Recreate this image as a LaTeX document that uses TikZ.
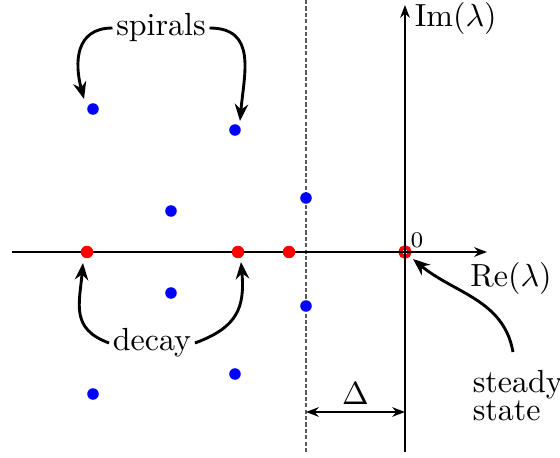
\documentclass[tikz,border=0pt]{standalone}
\usetikzlibrary{arrows.meta}
\begin{document}
\begin{tikzpicture}[x=0.3125pt,y=-0.3125pt,
  bdot/.style={circle,fill=blue,inner sep=0pt,minimum size=3.6pt},
  rdot/.style={circle,fill=red,inner sep=0pt,minimum size=3.9pt},
  axis/.style={line width=0.6pt,-{Stealth[length=4pt,width=3pt]}},
  callout/.style={line width=0.9pt,-{Stealth[length=5.3pt,width=4.2pt]}},
  lbl/.style={inner sep=1pt}]
\useasboundingbox (0,0) rectangle (560,458);
% dashed line
\coordinate (dtop) at (306,0);
\coordinate (dbot) at (306,452);
\draw[black!65,dash pattern=on 1.3pt off 0.7pt,line width=0.5pt] (dtop) -- (dbot);
% origin ring (under axes)
\node[circle,draw=red,line width=1.2pt,inner sep=0pt,minimum size=3.0pt] (o) at (405,252) {};
% axes
\coordinate (xl) at (12,252);
\coordinate (xr) at (487,252);
\coordinate (yb) at (405,452);
\coordinate (yt) at (405,5);
\draw[axis] (xl) -- (xr);
\draw[axis] (yb) -- (yt);
\node[lbl,anchor=west] (im) at (411,19) {$\mathrm{Im}(\lambda)$};
\node[lbl] (re) at (511,279) {$\mathrm{Re}(\lambda)$};
\node[lbl,font=\scriptsize] (zero) at (417,240) {$0$};
% blue dots
\node[bdot] (b1) at (93,109) {};
\node[bdot] (b2) at (235,130) {};
\node[bdot] (b3) at (171,211) {};
\node[bdot] (b4) at (306,198) {};
\node[bdot] (b5) at (171,293) {};
\node[bdot] (b6) at (306,306) {};
\node[bdot] (b7) at (235,374) {};
\node[bdot] (b8) at (93,394) {};
% red dots
\node[rdot] (r1) at (87,252) {};
\node[rdot] (r2) at (238,252) {};
\node[rdot] (r3) at (289,252) {};
% labels
\node[lbl] (spirals) at (161,28) {spirals};
\node[lbl] (decay) at (152,343) {decay};
\node[lbl,align=left,anchor=north west] (steady) at (469,366) {steady\\[-3pt]state};
% callout tips
\coordinate (t1) at (84,99);
\coordinate (t2) at (240,121);
\coordinate (t3) at (83,263);
\coordinate (t4) at (241,262);
\coordinate (t5) at (413,259);
\coordinate (sst) at (513,352);
% callouts
\draw[callout] (spirals.west) to[out=180,in=105,looseness=1.25] (t1);
\draw[callout] (spirals.east) to[out=0,in=85,looseness=1.25] (t2);
\draw[callout] (decay.west) to[out=160,in=-95,looseness=1.25] (t3);
\draw[callout] (decay.east) to[out=20,in=-85,looseness=1.25] (t4);
\draw[callout] (sst) to[out=100,in=-40] (t5);
% Delta
\coordinate (dl) at (306,412);
\coordinate (dr) at (405,412);
\draw[line width=0.6pt,{Stealth[length=4pt,width=3pt]}-{Stealth[length=4pt,width=3pt]}] (dl) -- node[above=2pt,inner sep=0pt] (delta) {$\Delta$} (dr);
\end{tikzpicture}
\end{document}
